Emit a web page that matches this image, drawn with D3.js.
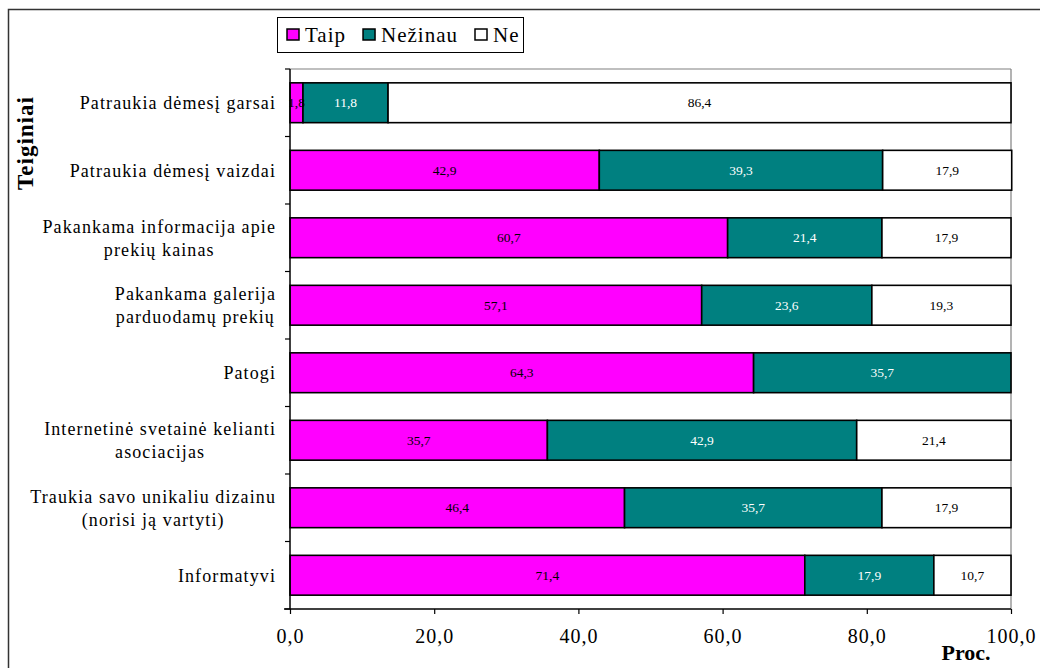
<!DOCTYPE html>
<html>
<head>
<meta charset="utf-8">
<script src="https://cdn.jsdelivr.net/npm/d3@7"></script>
<style>
html,body{margin:0;padding:0;background:#fff;}
svg{display:block;}
</style>
</head>
<body>
<svg id="chart" width="1040" height="668"></svg>
<script>
const categories = [
  ["Patraukia dėmesį garsai"],
  ["Patraukia dėmesį vaizdai"],
  ["Pakankama informacija apie", "prekių kainas"],
  ["Pakankama galerija", "parduodamų prekių"],
  ["Patogi"],
  ["Internetinė svetainė kelianti", "asociacijas"],
  ["Traukia savo unikaliu dizainu", "(norisi ją vartyti)"],
  ["Informatyvi"]
];
const taip    = [1.8, 42.9, 60.7, 57.1, 64.3, 35.7, 46.4, 71.4];
const nezinau = [11.8, 39.3, 21.4, 23.6, 35.7, 42.9, 35.7, 17.9];
const ne      = [86.4, 17.9, 17.9, 19.3, 0, 21.4, 17.9, 10.7];
const seriesNames = ["Taip", "Nežinau", "Ne"];
const seriesColors = ["#FF00FF", "#008080", "#FFFFFF"];
const labelColors = ["#000", "#fff", "#000"];
const xTicks = [0, 20, 40, 60, 80, 100];

(function () {
const FONT = "'Liberation Serif', 'Times New Roman', serif";
const svg = d3.select("#chart").attr("font-family", FONT);
const W = 1040, H = 668;
const pL = 290, pR = 1011, pT = 69, pB = 609;

// outer chart border
svg.append("rect").attr("x", 8.5).attr("y", 9.5).attr("width", W + 20).attr("height", H + 20)
  .attr("fill", "none").attr("stroke", "#333").attr("stroke-width", 1.5);

const x = d3.scaleLinear().domain([0, 100]).range([pL, pR]);
const y = d3.scaleBand().domain(d3.range(categories.length)).range([pT, pB]).paddingInner(0.41).paddingOuter(0.205);
const yb = d3.scaleBand().domain(d3.range(categories.length)).range([pT, pB]);

// plot frame (gray top/right)
svg.append("line").attr("x1", pL).attr("x2", pR).attr("y1", pT).attr("y2", pT).attr("stroke", "#808080").attr("stroke-width", 1.2);
svg.append("line").attr("x1", pR).attr("x2", pR).attr("y1", pT).attr("y2", pB).attr("stroke", "#808080").attr("stroke-width", 1.2);

const rows = categories.map((c, i) => ({ i, vals: [taip[i], nezinau[i], ne[i]] }));
const stack = d3.stack().keys([0, 1, 2]).value((d, k) => d.vals[k]);
const stacked = stack(rows);

stacked.forEach((layer, k) => {
  const g = svg.append("g");
  layer.forEach((seg, i) => {
    const v = rows[i].vals[k];
    if (!v) return;
    g.append("rect")
      .attr("x", x(seg[0])).attr("y", y(i))
      .attr("width", x(seg[1]) - x(seg[0])).attr("height", y.bandwidth())
      .attr("fill", seriesColors[k]).attr("stroke", "#000").attr("stroke-width", 1.6);
  });
});
stacked.forEach((layer, k) => {
  layer.forEach((seg, i) => {
    const v = rows[i].vals[k];
    if (!v) return;
    svg.append("text")
      .attr("x", (x(seg[0]) + x(seg[1])) / 2).attr("y", y(i) + y.bandwidth() / 2)
      .attr("dy", "0.35em").attr("text-anchor", "middle")
      .attr("font-family", FONT).attr("font-size", 13.5).attr("fill", labelColors[k])
      .text(d3.format(".1f")(v).replace(".", ","));
  });
});

// axes
const xAxis = d3.axisBottom(x).tickValues(xTicks).tickSize(5).tickFormat(d => d3.format(".1f")(d).replace(".", ","));
const gx = svg.append("g").attr("transform", `translate(0,${pB})`).call(xAxis).attr("font-family", FONT);
gx.select(".domain").attr("stroke", "#000").attr("stroke-width", 1.5).attr("d", `M${pL - 6},0H${pR}`);
gx.selectAll(".tick line").attr("stroke", "#000").attr("stroke-width", 1.2);
gx.selectAll(".tick text").attr("font-size", 20).attr("font-family", FONT).attr("letter-spacing", 1)
  .attr("fill", "#000").attr("y", 20).attr("dy", "0.71em");

const gy = svg.append("g").attr("transform", `translate(${pL},0)`);
gy.append("line").attr("x1", 0).attr("x2", 0).attr("y1", pT).attr("y2", pB).attr("stroke", "#000").attr("stroke-width", 1.5);
d3.range(categories.length + 1).forEach(i => {
  const yy = i < categories.length ? yb(i) : pB;
  gy.append("line").attr("x1", -5).attr("x2", 0).attr("y1", yy).attr("y2", yy).attr("stroke", "#000").attr("stroke-width", 1.2);
});

// category labels (centered lines, block right-aligned)
const lineH = 23;
categories.forEach((lines, i) => {
  const cy = yb(i) + yb.bandwidth() / 2;
  const t = svg.append("text").attr("font-family", FONT).attr("font-size", 18).attr("letter-spacing", 1.1)
    .attr("fill", "#000").attr("text-anchor", "middle");
  lines.forEach((ln, j) => {
    t.append("tspan").attr("x", 0).attr("y", cy + (j - (lines.length - 1) / 2) * lineH).attr("dy", "0.35em").text(ln);
  });
  const w = t.node().getBBox().width;
  t.attr("transform", `translate(${pL - 14 - w / 2},0)`);
});

// axis titles
svg.append("text").attr("transform", "translate(25,143) rotate(-90)").attr("text-anchor", "middle")
  .attr("dy", "0.35em").attr("font-family", FONT).attr("font-size", 23).attr("letter-spacing", 1)
  .attr("font-weight", "bold").text("Teiginiai");
svg.append("text").attr("x", 966).attr("y", 660).attr("text-anchor", "middle")
  .attr("font-family", FONT).attr("font-size", 22).attr("font-weight", "bold").text("Proc.");

// legend
const lg = svg.append("g");
const lgBox = lg.append("rect").attr("x", 277.5).attr("y", 17.5).attr("height", 35)
  .attr("fill", "#fff").attr("stroke", "#000").attr("stroke-width", 1);
let lx = 287;
seriesNames.forEach((name, k) => {
  lg.append("rect").attr("x", lx).attr("y", 29).attr("width", 12).attr("height", 11)
    .attr("fill", seriesColors[k]).attr("stroke", "#000").attr("stroke-width", 1.5);
  const t = lg.append("text").attr("x", lx + 18).attr("y", 35).attr("dy", "0.35em")
    .attr("font-family", FONT).attr("font-size", 21).attr("letter-spacing", 1)
    .attr("fill", "#000").text(name);
  lx += 18 + t.node().getComputedTextLength() + 17;
});
lgBox.attr("width", lx - 17 + 4 - 277.5);
})();
</script>
</body>
</html>
